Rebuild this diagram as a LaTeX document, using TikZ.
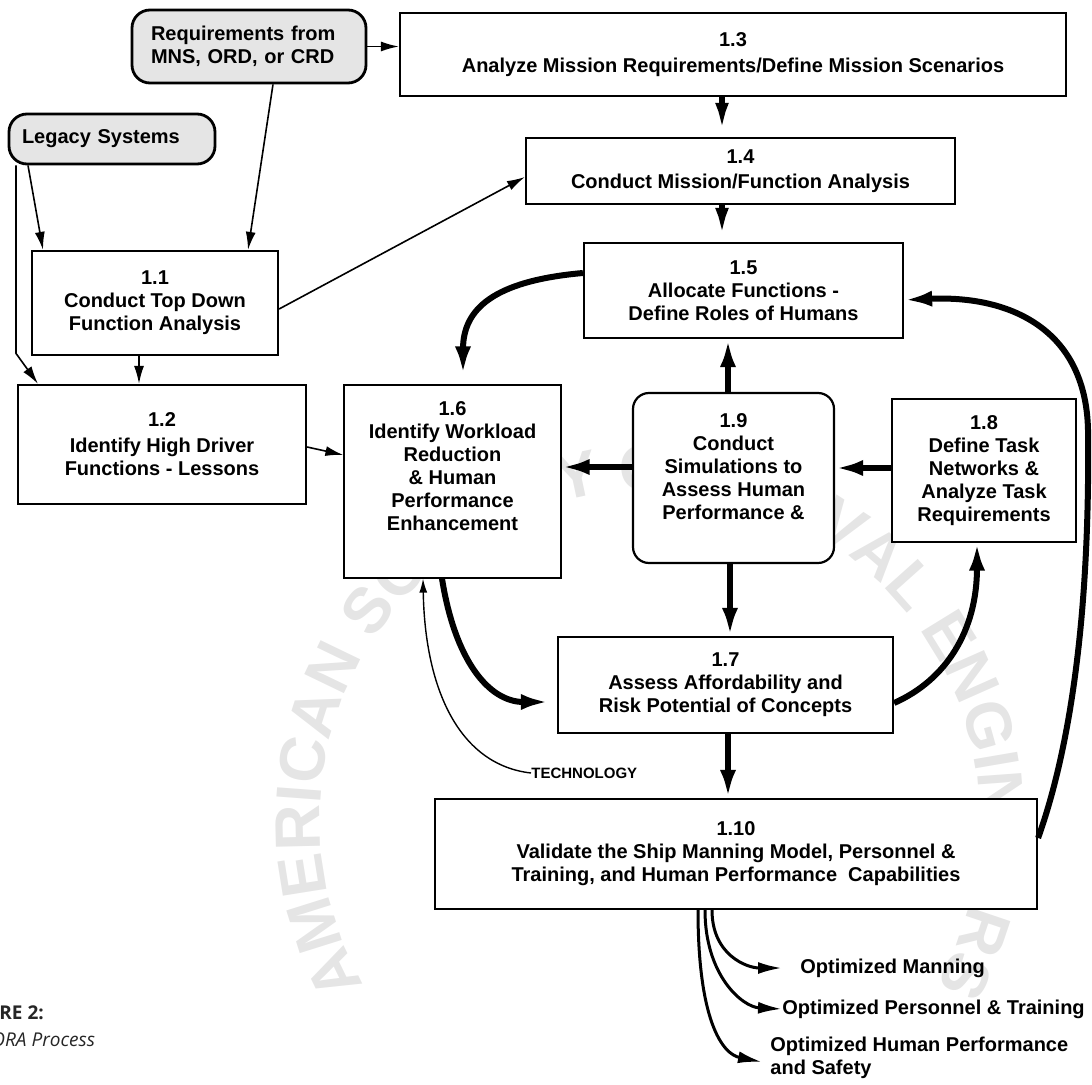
\documentclass[tikz,border=0pt]{standalone}
\usepackage{fontspec}
\setmainfont{Liberation Sans}
\newfontfamily\capfont{Open Sans}
\usetikzlibrary{arrows.meta}
\usetikzlibrary{decorations.text}

\begin{document}
\begin{tikzpicture}[x=0.5pt,y=-0.5pt,
    every node/.style={font=\bfseries\fontsize{10}{11.5}\selectfont, align=center, inner sep=0pt},
    procbox/.style={rectangle, draw=black, line width=1.1pt, fill=white},
    thinbox/.style={rectangle, draw=black, line width=0.6pt, fill=white},
    srcbox/.style={rectangle, rounded corners=9pt, draw=black, line width=1.4pt, fill=gray!20, align=left},
    flow/.style={-{Latex[length=9pt,width=5pt]}, line width=0.8pt},
    techflow/.style={-{Latex[length=7pt,width=4pt]}, line width=0.7pt},
    stubflow/.style={-{Latex[length=17pt,width=6.5pt]}, line width=3pt},
    bigflow/.style={-{Latex[length=14pt,width=8pt]}, line width=3pt},
    outflow/.style={-{Latex[length=12pt,width=6pt]}, line width=1.5pt}]
    \useasboundingbox (0,0) rectangle (1092,1085);
    % watermark
    \coordinate (wmc) at (650,820);
    \path[decorate, decoration={text along path, text color=black!10,
        text={|\fontsize{32}{32}\selectfont\bfseries|AMERICAN SOCIETY OF NAVAL ENGINEERS},
        text align=center}]
        (wmc) ++(150:330) arc[start angle=150, end angle=390, radius=330];
    %
    \node[srcbox, minimum width=117pt, minimum height=36.5pt, text width=98pt] (req) at (249,46.5) {Requirements from\\MNS, ORD, or CRD};
    \node[srcbox, minimum width=103pt, minimum height=25pt, text width=90pt] (legacy) at (112,139) {Legacy Systems};
    %
    \node[procbox, minimum width=333pt, minimum height=41.5pt] (n13) at (733,54.5) {1.3\\[1.5pt]Analyze Mission Requirements/Define Mission Scenarios};
    \node[procbox, minimum width=214.5pt, minimum height=33pt] (n14) at (740.5,171) {1.4\\[1pt]Conduct Mission/Function Analysis};
    \node[procbox, minimum width=159.5pt, minimum height=47.5pt] (n15) at (743.5,290.5) {1.5\\Allocate Functions -\\Define Roles of Humans};
    \node[procbox, minimum width=123pt, minimum height=52pt] (n11) at (155,303) {1.1\\Conduct Top Down\\Function Analysis};
    \node[procbox, minimum width=144pt, minimum height=59.5pt] (n12) at (162,444.5) {1.2\\[1.5pt]Identify High Driver\\Functions - Lessons};
    \node[thinbox, minimum width=108.5pt, minimum height=96.5pt] (n16) at (452.5,481.5) {1.6\\Identify Workload\\Reduction\\\& Human\\Performance\\Enhancement\\[4pt]\mbox{}};
    \node[procbox, rounded corners=8pt, minimum width=100.5pt, minimum height=85pt] (n19) at (733.5,478) {1.9\\Conduct\\Simulations to\\Assess Human\\Performance \&\\\mbox{}};
    \node[thinbox, minimum width=92pt, minimum height=71.5pt] (n18) at (984,470.5) {1.8\\Define Task\\Networks \&\\Analyze Task\\Requirements};
    \node[procbox, minimum width=167.5pt, minimum height=48pt] (n17) at (725.5,685) {1.7\\Assess Affordability and\\Risk Potential of Concepts};
    \node[procbox, minimum width=301pt, minimum height=55pt] (n110) at (736,854) {1.10\\Validate the Ship Manning Model, Personnel \&\\Training, and Human Performance\ \ Capabilities};
    %
    \node[anchor=west, font=\bfseries\fontsize{7.5}{9}\selectfont] (tech) at (531,773) {TECHNOLOGY};
    \node[anchor=west] (om) at (800,968) {Optimized Manning};
    \node[anchor=west] (opt) at (782,1009) {Optimized Personnel \& Training};
    \node[anchor=west, align=left] (ohp) at (770,1058) {Optimized Human Performance\\and Safety};
    %
    \node[anchor=base west, font=\capfont\bfseries\fontsize{9.5}{11}\selectfont, text=black!85] (figno) at (-1,1019) {RE 2:};
    \node[anchor=base west, font=\capfont\itshape\fontsize{9.5}{11}\selectfont, text=black!85] (figttl) at (-9,1046) {ORA Process};
    %
    \draw[flow] (req.east) -- (req.east -| n13.west);
    \draw[flow] ([xshift=12pt]req.south) -- ([xshift=46.5pt]n11.north);
    \draw[flow] ([xshift=-42pt]legacy.south) -- ([xshift=-56pt]n11.north);
    \draw[flow] ([xshift=-48pt]legacy.south) -- ++(0,188) -- ([xshift=-62pt]n12.north);
    \draw[flow] ([xshift=-8pt]n11.south) -- ([xshift=-11.5pt]n12.north);
    \draw[flow] ([yshift=-3pt]n11.east) -- ([yshift=-3pt]n14.west);
    \draw[flow] ([yshift=-1.25pt]n12.east) -- ([yshift=13.25pt]n16.west);
    %
    \draw[stubflow] ([xshift=-5.5pt]n13.south) -- ([xshift=-9.25pt]n14.north);
    \draw[stubflow] ([xshift=-9.25pt]n14.south) -- ([xshift=-10.75pt]n15.north);
    \draw[bigflow] ([xshift=-2.75pt]n19.north) -- ([xshift=-7.75pt]n15.south);
    \draw[bigflow] ([yshift=5.5pt]n19.west) -- ([yshift=7.25pt]n16.east);
    \draw[bigflow] ([yshift=1.25pt]n18.west) -- ([yshift=5pt]n19.east);
    \draw[bigflow] ([xshift=-1.75pt]n19.south) -- ([xshift=2.25pt]n17.north);
    \draw[bigflow] ([xshift=1.25pt]n17.south) -- ([xshift=-4pt]n110.north);
    %
    \draw[bigflow, shorten >=5pt] ([yshift=8.75pt]n15.west) .. controls +(-90,8) and +(0,-75) .. ([xshift=5.25pt]n16.north);
    \draw[bigflow, shorten >=4pt] ([xshift=-5.25pt]n16.south) .. controls +(13,82) and +(-68,0) .. ([yshift=-8.5pt]n17.west);
    \draw[techflow] (tech.west) .. controls +(-71,-8) and +(2,112) .. ([xshift=-14.75pt]n16.south);
    \draw[bigflow] ([yshift=-9pt]n17.east) .. controls +(52,-23) and +(0,88) .. ([xshift=-3.5pt]n18.south);
    \coordinate (loopR) at (1088,430);
    \draw[bigflow] ([yshift=8pt]n110.east) .. controls +(35,-98) and +(2,170) .. (loopR)
        .. controls +(-2,-100) and +(107,-5) .. ([yshift=-4.75pt]n15.east);
    %
    \draw[outflow] ([xshift=-12pt]n110.south) .. controls +(0,45) and +(-35,0) .. ([xshift=-9pt]om.west);
    \draw[outflow] ([xshift=-15.5pt]n110.south) .. controls +(0,65) and +(-40,-2) .. (opt.west);
    \draw[outflow] ([xshift=-19pt]n110.south) .. controls +(0,110) and +(-40,-8) .. ([xshift=-4pt,yshift=-2pt]ohp.west);
\end{tikzpicture}
\end{document}
